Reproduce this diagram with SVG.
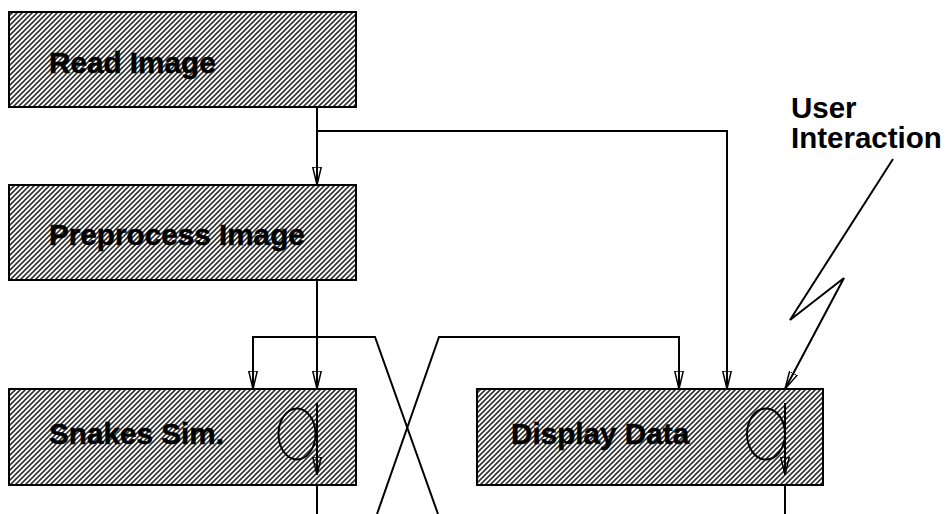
<svg xmlns="http://www.w3.org/2000/svg" width="950" height="514" viewBox="0 0 950 514">
<defs>
<pattern id="hatch" patternUnits="userSpaceOnUse" width="5" height="5">
<rect width="5" height="5" fill="#fff"/>
<path d="M-1,6 L6,-1 M-1,1 L1,-1 M4,6 L6,4" stroke="#333" stroke-width="1.6"/>
</pattern>
<marker id="arr" viewBox="0 0 18 10" refX="18" refY="5" markerWidth="18" markerHeight="10" markerUnits="userSpaceOnUse" orient="auto">
<path d="M0,0.7 L18,5 L0,9.3 Z" fill="none" stroke="#000" stroke-width="1.5"/>
</marker>
</defs>
<style>
.box{fill:url(#hatch);stroke:#000;stroke-width:2}
.lbl{font-family:"Liberation Sans",Arial,sans-serif;font-weight:bold;font-size:29.7px;fill:#000;stroke:#000;stroke-width:0.5}
.note{font-family:"Liberation Sans",Arial,sans-serif;font-weight:bold;font-size:29.5px;fill:#000}
.ln{fill:none;stroke:#000;stroke-width:2}
.ar{fill:none;stroke:#000;stroke-width:2;marker-end:url(#arr)}
</style>
<g id="read-image">
<rect class="box" x="9" y="12" width="347" height="95"/>
<text class="lbl" x="49" y="73">Read Image</text>
</g>
<g id="preprocess-image">
<rect class="box" x="9" y="185" width="347" height="95"/>
<text class="lbl" x="49" y="245">Preprocess Image</text>
</g>
<g id="snakes-sim">
<rect class="box" x="9" y="389" width="347" height="96"/>
<text class="lbl" x="49" y="444">Snakes Sim.</text>
<ellipse cx="297" cy="434" rx="18.5" ry="25.5" class="ln"/>
<line class="ar" x1="317" y1="403" x2="317" y2="475"/>
</g>
<g id="display-data">
<rect class="box" x="477" y="389" width="346" height="96"/>
<text class="lbl" x="511" y="444">Display Data</text>
<ellipse cx="766" cy="434" rx="19" ry="25.5" class="ln"/>
<line class="ar" x1="785" y1="403" x2="785" y2="475"/>
</g>
<g id="user-interaction">
<text class="note" x="791" y="118">User</text>
<text class="note" x="791" y="148">Interaction</text>
</g>
<g id="connectors">
<line class="ar" x1="317" y1="107" x2="317" y2="185"/>
<polyline class="ar" points="317,131 727,131 727,389"/>
<line class="ar" x1="317" y1="280" x2="317" y2="389"/>
<polyline class="ar" points="438,514 375,337 253,337 253,389"/>
<polyline class="ar" points="377,514 439,337 679,337 679,389"/>
<polyline class="ar" points="893,159 790,320 844,278 785,389"/>
<line class="ln" x1="317" y1="485" x2="317" y2="514"/>
<line class="ln" x1="785" y1="485" x2="785" y2="514"/>
</g>
</svg>
